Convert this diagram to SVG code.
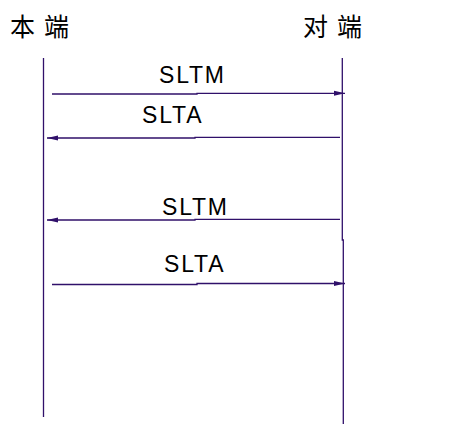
<svg xmlns="http://www.w3.org/2000/svg" width="464" height="435" viewBox="0 0 464 435">
<style>
.ln{stroke:#30106a;stroke-width:1.3;fill:none}
.msg{stroke:#30106a;stroke-width:1.3;fill:none;marker-end:url(#ah)}
.lbl{font-family:"Liberation Sans",Arial,sans-serif;font-size:23px;letter-spacing:1.8px;fill:#000}
.ttl{font-family:"Noto Sans CJK SC","Liberation Serif",serif;font-size:25px;letter-spacing:9px;fill:#000}
</style>
<defs>
<marker id="ah" markerWidth="12" markerHeight="8" refX="11" refY="4" orient="auto" markerUnits="userSpaceOnUse">
<path d="M0,1.5 L11,4 L0,6.5 Z" fill="#30106a"/>
</marker>
</defs>
<rect width="464" height="435" fill="#fff"/>
<g id="local">
<text class="ttl" x="10" y="36">本端</text>
<line class="ln" x1="43.5" y1="58" x2="43.5" y2="417"/>
</g>
<g id="remote">
<text class="ttl" x="303" y="36">对端</text>
<polyline class="ln" points="342.3,58 342.3,240 343.3,240 343.3,424"/>
</g>
<g id="connectors">
<polyline class="msg" points="52,94 197,94 197,93.3 345,93.3"/>
<text class="lbl" x="159" y="83">SLTM</text>
<polyline class="msg" points="340,137.3 195,137.3 195,138 47,138"/>
<text class="lbl" x="142" y="123">SLTA</text>
<polyline class="msg" points="340,219.3 195,219.3 195,220 47,220"/>
<text class="lbl" x="162" y="215">SLTM</text>
<polyline class="msg" points="52,284.5 197,284.5 197,283.5 345,283.5"/>
<text class="lbl" x="164" y="272">SLTA</text>
</g>
</svg>
